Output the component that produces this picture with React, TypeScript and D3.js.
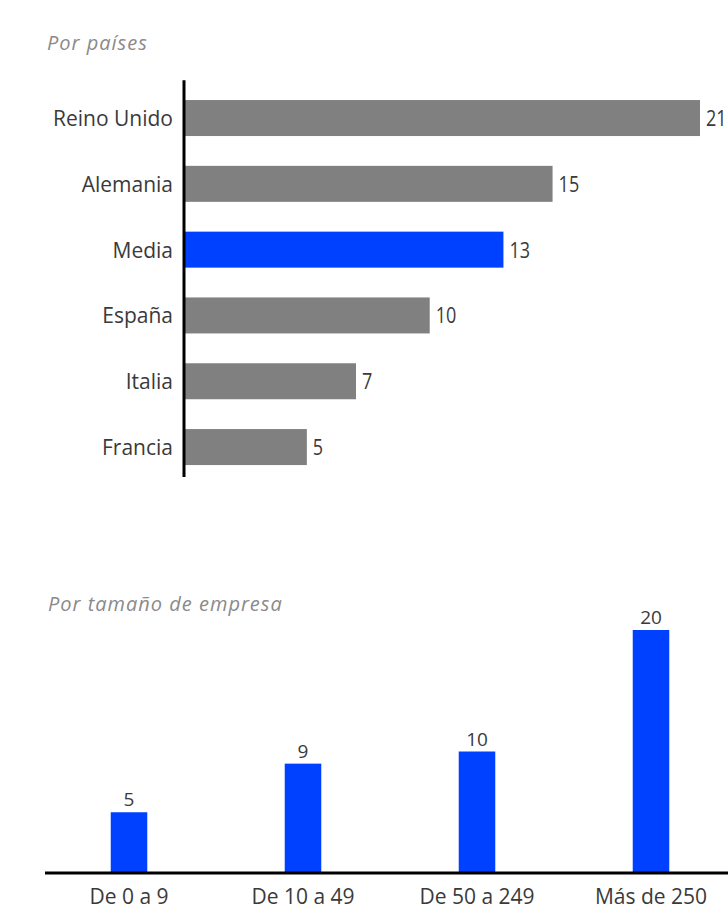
import React from "react";
import * as d3 from "d3";

const countries = ["Reino Unido", "Alemania", "Media", "España", "Italia", "Francia"];
const countryValues = [21, 15, 13, 10, 7, 5];
const highlight = "Media";

const sizes = ["De 0 a 9", "De 10 a 49", "De 50 a 249", "Más de 250"];
const sizeValues = [5, 9, 10, 20];

const titleTop = "Por países";
const titleBottom = "Por tamaño de empresa";

const BLUE = "#0040ff";
const GREY = "#808080";
const TEXT = "#3a3a3a";
const FONT = "'Open Sans', 'DejaVu Sans', sans-serif";

function Txt({ x, y, anchor = "start", size, fill = TEXT, italic = false, sx = 1, ls = 0, children }: any) {
  return (
    <g transform={`translate(${x},${y}) scale(${sx},1)`}>
      <text
        textAnchor={anchor}
        fontSize={size}
        fill={fill}
        fontFamily={FONT}
        fontStyle={italic ? "italic" : "normal"}
        letterSpacing={ls}
      >
        {children}
      </text>
    </g>
  );
}

export default function App() {
  // top chart
  const yTop = d3
    .scaleBand<string>()
    .domain(countries)
    .range([80.3, 484.8])
    .paddingInner(0.453)
    .paddingOuter(0.3);
  const xTop = d3.scaleLinear().domain([0, 21]).range([184, 700]);
  const bw = yTop.bandwidth();

  // bottom chart
  const xBot = d3
    .scaleBand<string>()
    .domain(sizes)
    .range([42, 738])
    .paddingInner(0.79)
    .paddingOuter(0.395);
  const yBot = d3.scaleLinear().domain([0, 20]).range([873, 630]);

  return (
    <svg
      width={728}
      height={911}
      style={{ position: "absolute", left: 0, top: 0, background: "#fff" }}
    >
      <rect x={0} y={0} width={728} height={911} fill="#fff" />
      <Txt x={47} y={50} size={20} fill="#8a8a8a" italic ls={1}>
        {titleTop}
      </Txt>
      {countries.map((c, i) => {
        const y = yTop(c)!;
        return (
          <g key={c}>
            <rect
              x={xTop(0)}
              y={y}
              width={xTop(countryValues[i]) - xTop(0)}
              height={bw}
              fill={c === highlight ? BLUE : GREY}
            />
            <Txt x={173} y={y + bw / 2 + 8} anchor="end" size={21}>
              {c}
            </Txt>
            <Txt x={xTop(countryValues[i]) + 6} y={y + bw / 2 + 8} size={22} sx={0.82}>
              {countryValues[i]}
            </Txt>
          </g>
        );
      })}
      <line
        x1={xTop(0)}
        x2={xTop(0)}
        y1={yTop.range()[0]}
        y2={yTop(countries[countries.length - 1])! + bw + 12}
        stroke="#000"
        strokeWidth={3}
      />

      <Txt x={48} y={611} size={20} fill="#8a8a8a" italic ls={1}>
        {titleBottom}
      </Txt>
      {sizes.map((s, i) => {
        const x = xBot(s)!;
        const w = xBot.bandwidth();
        return (
          <g key={s}>
            <rect
              x={x}
              y={yBot(sizeValues[i])}
              width={w}
              height={yBot(0) - yBot(sizeValues[i])}
              fill={BLUE}
            />
            <Txt x={x + w / 2} y={yBot(sizeValues[i]) - 6} anchor="middle" size={19}>
              {sizeValues[i]}
            </Txt>
            <Txt x={x + w / 2} y={904} anchor="middle" size={21}>
              {s}
            </Txt>
          </g>
        );
      })}
      <line x1={45} x2={728} y1={yBot(0)} y2={yBot(0)} stroke="#000" strokeWidth={3} />
    </svg>
  );
}
